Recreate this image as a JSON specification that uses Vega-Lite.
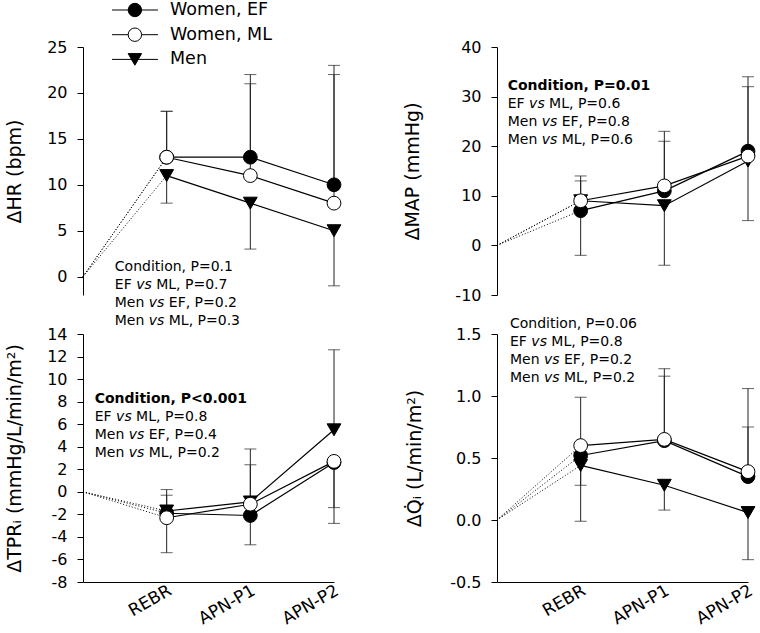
{
  "$schema": "https://vega.github.io/schema/vega-lite/v6.json",
  "autosize": "none",
  "padding": {"left": 83, "top": 47, "right": 677, "bottom": 586},
  "background": "white",
  "datasets": {
    "main": [
      {"panel": "HR", "series": "Women, EF", "x": 0, "mean": 0, "err": null},
      {"panel": "HR", "series": "Women, EF", "x": 1, "mean": 13, "err": 18},
      {"panel": "HR", "series": "Women, EF", "x": 2, "mean": 13, "err": 22},
      {"panel": "HR", "series": "Women, EF", "x": 3, "mean": 10, "err": 23},
      {"panel": "HR", "series": "Women, ML", "x": 0, "mean": 0, "err": null},
      {"panel": "HR", "series": "Women, ML", "x": 1, "mean": 13, "err": 18},
      {"panel": "HR", "series": "Women, ML", "x": 2, "mean": 11, "err": 21},
      {"panel": "HR", "series": "Women, ML", "x": 3, "mean": 8, "err": 22},
      {"panel": "HR", "series": "Men", "x": 0, "mean": 0, "err": null},
      {"panel": "HR", "series": "Men", "x": 1, "mean": 11, "err": 8},
      {"panel": "HR", "series": "Men", "x": 2, "mean": 8, "err": 3},
      {"panel": "HR", "series": "Men", "x": 3, "mean": 5, "err": -1},
      {"panel": "MAP", "series": "Women, EF", "x": 0, "mean": 0, "err": null},
      {"panel": "MAP", "series": "Women, EF", "x": 1, "mean": 7, "err": 13},
      {"panel": "MAP", "series": "Women, EF", "x": 2, "mean": 11, "err": 21},
      {"panel": "MAP", "series": "Women, EF", "x": 3, "mean": 19, "err": 34},
      {"panel": "MAP", "series": "Women, ML", "x": 0, "mean": 0, "err": null},
      {"panel": "MAP", "series": "Women, ML", "x": 1, "mean": 9, "err": 14},
      {"panel": "MAP", "series": "Women, ML", "x": 2, "mean": 12, "err": 23},
      {"panel": "MAP", "series": "Women, ML", "x": 3, "mean": 18, "err": 32},
      {"panel": "MAP", "series": "Men", "x": 0, "mean": 0, "err": null},
      {"panel": "MAP", "series": "Men", "x": 1, "mean": 9, "err": -2},
      {"panel": "MAP", "series": "Men", "x": 2, "mean": 8, "err": -4},
      {"panel": "MAP", "series": "Men", "x": 3, "mean": 17, "err": 5},
      {"panel": "TPR", "series": "Women, EF", "x": 0, "mean": 0, "err": null},
      {"panel": "TPR", "series": "Women, EF", "x": 1, "mean": -1.9, "err": -0.3},
      {"panel": "TPR", "series": "Women, EF", "x": 2, "mean": -2.1, "err": -4.7},
      {"panel": "TPR", "series": "Women, EF", "x": 3, "mean": 2.6, "err": -2.8},
      {"panel": "TPR", "series": "Women, ML", "x": 0, "mean": 0, "err": null},
      {"panel": "TPR", "series": "Women, ML", "x": 1, "mean": -2.3, "err": -5.4},
      {"panel": "TPR", "series": "Women, ML", "x": 2, "mean": -1.1, "err": 2.4},
      {"panel": "TPR", "series": "Women, ML", "x": 3, "mean": 2.7, "err": -1.4},
      {"panel": "TPR", "series": "Men", "x": 0, "mean": 0, "err": null},
      {"panel": "TPR", "series": "Men", "x": 1, "mean": -1.7, "err": 0.2},
      {"panel": "TPR", "series": "Men", "x": 2, "mean": -0.9, "err": 3.8},
      {"panel": "TPR", "series": "Men", "x": 3, "mean": 5.5, "err": 12.6},
      {"panel": "Q", "series": "Women, EF", "x": 0, "mean": 0, "err": null},
      {"panel": "Q", "series": "Women, EF", "x": 1, "mean": 0.52, "err": 0.28},
      {"panel": "Q", "series": "Women, EF", "x": 2, "mean": 0.64, "err": 1.16},
      {"panel": "Q", "series": "Women, EF", "x": 3, "mean": 0.35, "err": 0.75},
      {"panel": "Q", "series": "Women, ML", "x": 0, "mean": 0, "err": null},
      {"panel": "Q", "series": "Women, ML", "x": 1, "mean": 0.6, "err": 0.99},
      {"panel": "Q", "series": "Women, ML", "x": 2, "mean": 0.65, "err": 1.22},
      {"panel": "Q", "series": "Women, ML", "x": 3, "mean": 0.39, "err": 1.06},
      {"panel": "Q", "series": "Men", "x": 0, "mean": 0, "err": null},
      {"panel": "Q", "series": "Men", "x": 1, "mean": 0.44, "err": -0.01},
      {"panel": "Q", "series": "Men", "x": 2, "mean": 0.28, "err": 0.08},
      {"panel": "Q", "series": "Men", "x": 3, "mean": 0.06, "err": -0.32}
    ],
    "notes": [
      {"panel": "HR", "line": 0, "pre": "Condition, P=0.1", "mid": "", "post": ""},
      {"panel": "HR", "line": 1, "pre": "EF", "mid": "vs", "post": "ML, P=0.7"},
      {"panel": "HR", "line": 2, "pre": "Men", "mid": "vs", "post": "EF, P=0.2"},
      {"panel": "HR", "line": 3, "pre": "Men", "mid": "vs", "post": "ML, P=0.3"},
      {"panel": "MAP", "line": 0, "pre": "Condition, P=0.01", "mid": "", "post": ""},
      {"panel": "MAP", "line": 1, "pre": "EF", "mid": "vs", "post": "ML, P=0.6"},
      {"panel": "MAP", "line": 2, "pre": "Men", "mid": "vs", "post": "EF, P=0.8"},
      {"panel": "MAP", "line": 3, "pre": "Men", "mid": "vs", "post": "ML, P=0.6"},
      {"panel": "TPR", "line": 0, "pre": "Condition, P<0.001", "mid": "", "post": ""},
      {"panel": "TPR", "line": 1, "pre": "EF", "mid": "vs", "post": "ML, P=0.8"},
      {"panel": "TPR", "line": 2, "pre": "Men", "mid": "vs", "post": "EF, P=0.4"},
      {"panel": "TPR", "line": 3, "pre": "Men", "mid": "vs", "post": "ML, P=0.2"},
      {"panel": "Q", "line": 0, "pre": "Condition, P=0.06", "mid": "", "post": ""},
      {"panel": "Q", "line": 1, "pre": "EF", "mid": "vs", "post": "ML, P=0.8"},
      {"panel": "Q", "line": 2, "pre": "Men", "mid": "vs", "post": "EF, P=0.2"},
      {"panel": "Q", "line": 3, "pre": "Men", "mid": "vs", "post": "ML, P=0.2"}
    ]
  },
  "columns": 2,
  "spacing": {"row": 39, "column": 163},
  "bounds": "flush",
  "concat": [
    {
      "width": 251, "height": 248,
      "resolve": {"scale": {"y": "independent"}},
      "layer": [
        {
          "data": {"name": "main"},
          "transform": [{"filter": "datum.panel === 'HR'"}],
          "encoding": {
            "x": {"field": "x", "type": "quantitative", "scale": {"domain": [0, 3], "nice": false, "zero": false}, "axis": null},
            "y": {"field": "mean", "type": "quantitative", "scale": {"domain": [-2, 25], "nice": false, "zero": false}, "axis": {"values": [0, 5, 10, 15, 20, 25], "labelExpr": "replace(datum.label, '−', '-')", "title": "ΔHR (bpm)", "titlePadding": 22}}
          },
          "layer": [
            {"transform": [{"filter": "datum.x <= 1"}], "mark": {"type": "line", "color": "black", "strokeWidth": 1, "strokeDash": [1, 2]}, "encoding": {"detail": {"field": "series"}}},
            {"transform": [{"filter": "datum.x >= 1"}], "mark": {"type": "rule", "color": "#222", "strokeWidth": 1}, "encoding": {"y2": {"field": "err"}}},
            {"transform": [{"filter": "datum.x >= 1"}], "mark": {"type": "tick", "orient": "horizontal", "color": "#222", "size": 12, "thickness": 1}, "encoding": {"y": {"field": "err", "type": "quantitative", "scale": {"domain": [-2, 25], "nice": false, "zero": false}, "axis": {"values": [0, 5, 10, 15, 20, 25], "labelExpr": "replace(datum.label, '−', '-')", "title": "ΔHR (bpm)", "titlePadding": 22}}}},
            {"transform": [{"filter": "datum.x >= 1"}], "mark": {"type": "line", "color": "black", "strokeWidth": 1.2}, "encoding": {"detail": {"field": "series"}}},
            {"transform": [{"filter": "datum.x >= 1 && datum.series === 'Women, EF'"}], "mark": {"type": "point", "shape": "circle", "filled": true, "fill": "black", "stroke": "black", "strokeWidth": 1, "size": 190, "opacity": 1}},
            {"transform": [{"filter": "datum.x >= 1 && datum.series === 'Men'"}], "mark": {"type": "point", "shape": "triangle-down", "filled": true, "fill": "black", "stroke": "black", "strokeWidth": 1, "size": 190, "opacity": 1}},
            {"transform": [{"filter": "datum.x >= 1 && datum.series === 'Women, ML'"}], "mark": {"type": "point", "shape": "circle", "filled": true, "fill": "white", "stroke": "black", "strokeWidth": 1, "size": 190, "opacity": 1}}
          ]
        },
        {
          "data": {"name": "main"},
          "transform": [{"filter": "datum.panel === 'HR' && datum.x === 1"}],
          "encoding": {
            "y": {"field": "series", "type": "nominal", "sort": ["Women, EF", "Women, ML", "Men"], "scale": {"type": "point", "domain": ["Women, EF", "Women, ML", "Men"], "range": [-37, 12.4], "padding": 0}, "axis": null}
          },
          "layer": [
            {"mark": {"type": "rule", "color": "black", "strokeWidth": 1}, "encoding": {"x": {"datum": 0.347, "type": "quantitative", "axis": null}, "x2": {"datum": 0.896}}},
            {"mark": {"type": "point", "filled": true, "stroke": "black", "strokeWidth": 1, "size": 180, "opacity": 1},
             "encoding": {
               "x": {"datum": 0.62, "type": "quantitative", "axis": null},
               "shape": {"field": "series", "type": "nominal", "scale": {"domain": ["Women, EF", "Women, ML", "Men"], "range": ["circle", "circle", "triangle-down"]}, "legend": null},
               "fill": {"field": "series", "type": "nominal", "scale": {"domain": ["Women, EF", "Women, ML", "Men"], "range": ["black", "white", "black"]}, "legend": null}
             }},
            {"mark": {"type": "text", "align": "left", "baseline": "middle", "fontSize": 17.5, "color": "black"}, "encoding": {"x": {"datum": 1.04, "type": "quantitative", "axis": null}, "text": {"field": "series"}}}
          ]
        },
        {
          "data": {"name": "notes"},
          "transform": [{"filter": "datum.panel === 'HR'"}],
          "encoding": {
            "x": {"datum": 0.38, "type": "quantitative", "axis": null},
            "y": {"field": "line", "type": "quantitative", "scale": {"domain": [0, 3], "range": [220, 274], "nice": false, "zero": false}, "axis": null}
          },
          "layer": [
            {"mark": {"type": "text", "align": "left", "baseline": "middle", "fontSize": 14, "color": "black"}, "encoding": {"text": {"field": "pre"}}},
            {"transform": [{"filter": "datum.pre === 'EF'"}], "mark": {"type": "text", "align": "left", "baseline": "middle", "fontSize": 14, "fontStyle": "italic", "color": "black", "dx": 21.4}, "encoding": {"text": {"field": "mid"}}},
            {"transform": [{"filter": "datum.pre === 'Men'"}], "mark": {"type": "text", "align": "left", "baseline": "middle", "fontSize": 14, "fontStyle": "italic", "color": "black", "dx": 34}, "encoding": {"text": {"field": "mid"}}},
            {"transform": [{"filter": "datum.pre === 'EF'"}], "mark": {"type": "text", "align": "left", "baseline": "middle", "fontSize": 14, "color": "black", "dx": 41.4}, "encoding": {"text": {"field": "post"}}},
            {"transform": [{"filter": "datum.pre === 'Men'"}], "mark": {"type": "text", "align": "left", "baseline": "middle", "fontSize": 14, "color": "black", "dx": 54}, "encoding": {"text": {"field": "post"}}}
          ]
        }
      ]
    },
    {
      "width": 251, "height": 248,
      "resolve": {"scale": {"y": "independent"}},
      "layer": [
        {
          "data": {"name": "main"},
          "transform": [{"filter": "datum.panel === 'MAP'"}],
          "encoding": {
            "x": {"field": "x", "type": "quantitative", "scale": {"domain": [0, 3], "nice": false, "zero": false}, "axis": null},
            "y": {"field": "mean", "type": "quantitative", "scale": {"domain": [-10, 40], "nice": false, "zero": false}, "axis": {"values": [-10, 0, 10, 20, 30, 40], "labelExpr": "replace(datum.label, '−', '-')", "title": "ΔMAP (mmHg)", "titlePadding": 32}}
          },
          "layer": [
            {"transform": [{"filter": "datum.x <= 1"}], "mark": {"type": "line", "color": "black", "strokeWidth": 1, "strokeDash": [1, 2]}, "encoding": {"detail": {"field": "series"}}},
            {"transform": [{"filter": "datum.x >= 1"}], "mark": {"type": "rule", "color": "#222", "strokeWidth": 1}, "encoding": {"y2": {"field": "err"}}},
            {"transform": [{"filter": "datum.x >= 1"}], "mark": {"type": "tick", "orient": "horizontal", "color": "#222", "size": 12, "thickness": 1}, "encoding": {"y": {"field": "err", "type": "quantitative", "scale": {"domain": [-10, 40], "nice": false, "zero": false}, "axis": {"values": [-10, 0, 10, 20, 30, 40], "labelExpr": "replace(datum.label, '−', '-')", "title": "ΔMAP (mmHg)", "titlePadding": 32}}}},
            {"transform": [{"filter": "datum.x >= 1"}], "mark": {"type": "line", "color": "black", "strokeWidth": 1.2}, "encoding": {"detail": {"field": "series"}}},
            {"transform": [{"filter": "datum.x >= 1 && datum.series === 'Women, EF'"}], "mark": {"type": "point", "shape": "circle", "filled": true, "fill": "black", "stroke": "black", "strokeWidth": 1, "size": 190, "opacity": 1}},
            {"transform": [{"filter": "datum.x >= 1 && datum.series === 'Men'"}], "mark": {"type": "point", "shape": "triangle-down", "filled": true, "fill": "black", "stroke": "black", "strokeWidth": 1, "size": 190, "opacity": 1}},
            {"transform": [{"filter": "datum.x >= 1 && datum.series === 'Women, ML'"}], "mark": {"type": "point", "shape": "circle", "filled": true, "fill": "white", "stroke": "black", "strokeWidth": 1, "size": 190, "opacity": 1}}
          ]
        },
        {
          "data": {"name": "notes"},
          "transform": [{"filter": "datum.panel === 'MAP'"}],
          "encoding": {
            "x": {"datum": 0.128, "type": "quantitative", "axis": null},
            "y": {"field": "line", "type": "quantitative", "scale": {"domain": [0, 3], "range": [39, 93], "nice": false, "zero": false}, "axis": null}
          },
          "layer": [
            {"transform": [{"filter": "datum.line === 0"}], "mark": {"type": "text", "align": "left", "baseline": "middle", "fontSize": 14, "fontWeight": "bold", "color": "black"}, "encoding": {"text": {"field": "pre"}}},
            {"transform": [{"filter": "datum.line > 0"}], "mark": {"type": "text", "align": "left", "baseline": "middle", "fontSize": 14, "color": "black"}, "encoding": {"text": {"field": "pre"}}},
            {"transform": [{"filter": "datum.pre === 'EF'"}], "mark": {"type": "text", "align": "left", "baseline": "middle", "fontSize": 14, "fontStyle": "italic", "color": "black", "dx": 21.4}, "encoding": {"text": {"field": "mid"}}},
            {"transform": [{"filter": "datum.pre === 'Men'"}], "mark": {"type": "text", "align": "left", "baseline": "middle", "fontSize": 14, "fontStyle": "italic", "color": "black", "dx": 34}, "encoding": {"text": {"field": "mid"}}},
            {"transform": [{"filter": "datum.pre === 'EF'"}], "mark": {"type": "text", "align": "left", "baseline": "middle", "fontSize": 14, "color": "black", "dx": 41.4}, "encoding": {"text": {"field": "post"}}},
            {"transform": [{"filter": "datum.pre === 'Men'"}], "mark": {"type": "text", "align": "left", "baseline": "middle", "fontSize": 14, "color": "black", "dx": 54}, "encoding": {"text": {"field": "post"}}}
          ]
        }
      ]
    },
    {
      "width": 251, "height": 248,
      "resolve": {"scale": {"y": "independent"}},
      "layer": [
        {
          "data": {"name": "main"},
          "transform": [{"filter": "datum.panel === 'TPR'"}],
          "encoding": {
            "x": {"field": "x", "type": "quantitative", "scale": {"domain": [0, 3], "nice": false, "zero": false}, "axis": {"values": [1, 2, 3], "labelExpr": "datum.value === 1 ? 'REBR' : datum.value === 2 ? 'APN-P1' : 'APN-P2'", "title": null, "ticks": false, "tickSize": 0, "labelAngle": -30, "labelAlign": "right", "labelBaseline": "top", "labelOffset": -1, "labelPadding": 0, "labelFontSize": 17}},
            "y": {"field": "mean", "type": "quantitative", "scale": {"domain": [-8, 14], "nice": false, "zero": false}, "axis": {"values": [-8, -6, -4, -2, 0, 2, 4, 6, 8, 10, 12, 14], "labelExpr": "replace(datum.label, '−', '-')", "title": "ΔTPRᵢ (mmHg/L/min/m²)", "titlePadding": 22}}
          },
          "layer": [
            {"transform": [{"filter": "datum.x <= 1"}], "mark": {"type": "line", "color": "black", "strokeWidth": 1, "strokeDash": [1, 2]}, "encoding": {"detail": {"field": "series"}}},
            {"transform": [{"filter": "datum.x >= 1"}], "mark": {"type": "rule", "color": "#222", "strokeWidth": 1}, "encoding": {"y2": {"field": "err"}}},
            {"transform": [{"filter": "datum.x >= 1"}], "mark": {"type": "tick", "orient": "horizontal", "color": "#222", "size": 12, "thickness": 1}, "encoding": {"y": {"field": "err", "type": "quantitative", "scale": {"domain": [-8, 14], "nice": false, "zero": false}, "axis": {"values": [-8, -6, -4, -2, 0, 2, 4, 6, 8, 10, 12, 14], "labelExpr": "replace(datum.label, '−', '-')", "title": "ΔTPRᵢ (mmHg/L/min/m²)", "titlePadding": 22}}}},
            {"transform": [{"filter": "datum.x >= 1"}], "mark": {"type": "line", "color": "black", "strokeWidth": 1.2}, "encoding": {"detail": {"field": "series"}}},
            {"transform": [{"filter": "datum.x >= 1 && datum.series === 'Women, EF'"}], "mark": {"type": "point", "shape": "circle", "filled": true, "fill": "black", "stroke": "black", "strokeWidth": 1, "size": 190, "opacity": 1}},
            {"transform": [{"filter": "datum.x >= 1 && datum.series === 'Men'"}], "mark": {"type": "point", "shape": "triangle-down", "filled": true, "fill": "black", "stroke": "black", "strokeWidth": 1, "size": 190, "opacity": 1}},
            {"transform": [{"filter": "datum.x >= 1 && datum.series === 'Women, ML'"}], "mark": {"type": "point", "shape": "circle", "filled": true, "fill": "white", "stroke": "black", "strokeWidth": 1, "size": 190, "opacity": 1}}
          ]
        },
        {
          "data": {"name": "notes"},
          "transform": [{"filter": "datum.panel === 'TPR'"}],
          "encoding": {
            "x": {"datum": 0.14, "type": "quantitative"},
            "y": {"field": "line", "type": "quantitative", "scale": {"domain": [0, 3], "range": [65, 119], "nice": false, "zero": false}, "axis": null}
          },
          "layer": [
            {"transform": [{"filter": "datum.line === 0"}], "mark": {"type": "text", "align": "left", "baseline": "middle", "fontSize": 14, "fontWeight": "bold", "color": "black"}, "encoding": {"text": {"field": "pre"}}},
            {"transform": [{"filter": "datum.line > 0"}], "mark": {"type": "text", "align": "left", "baseline": "middle", "fontSize": 14, "color": "black"}, "encoding": {"text": {"field": "pre"}}},
            {"transform": [{"filter": "datum.pre === 'EF'"}], "mark": {"type": "text", "align": "left", "baseline": "middle", "fontSize": 14, "fontStyle": "italic", "color": "black", "dx": 21.4}, "encoding": {"text": {"field": "mid"}}},
            {"transform": [{"filter": "datum.pre === 'Men'"}], "mark": {"type": "text", "align": "left", "baseline": "middle", "fontSize": 14, "fontStyle": "italic", "color": "black", "dx": 34}, "encoding": {"text": {"field": "mid"}}},
            {"transform": [{"filter": "datum.pre === 'EF'"}], "mark": {"type": "text", "align": "left", "baseline": "middle", "fontSize": 14, "color": "black", "dx": 41.4}, "encoding": {"text": {"field": "post"}}},
            {"transform": [{"filter": "datum.pre === 'Men'"}], "mark": {"type": "text", "align": "left", "baseline": "middle", "fontSize": 14, "color": "black", "dx": 54}, "encoding": {"text": {"field": "post"}}}
          ]
        }
      ]
    },
    {
      "width": 251, "height": 248,
      "resolve": {"scale": {"y": "independent"}},
      "layer": [
        {
          "data": {"name": "main"},
          "transform": [{"filter": "datum.panel === 'Q'"}],
          "encoding": {
            "x": {"field": "x", "type": "quantitative", "scale": {"domain": [0, 3], "nice": false, "zero": false}, "axis": {"values": [1, 2, 3], "labelExpr": "datum.value === 1 ? 'REBR' : datum.value === 2 ? 'APN-P1' : 'APN-P2'", "title": null, "ticks": false, "tickSize": 0, "labelAngle": -30, "labelAlign": "right", "labelBaseline": "top", "labelOffset": -1, "labelPadding": 0, "labelFontSize": 17}},
            "y": {"field": "mean", "type": "quantitative", "scale": {"domain": [-0.5, 1.5], "nice": false, "zero": false}, "axis": {"values": [-0.5, 0, 0.5, 1, 1.5], "format": ".1f", "labelExpr": "replace(datum.label, '−', '-')", "title": "ΔQ̇ᵢ (L/min/m²)", "titlePadding": 25}}
          },
          "layer": [
            {"transform": [{"filter": "datum.x <= 1"}], "mark": {"type": "line", "color": "black", "strokeWidth": 1, "strokeDash": [1, 2]}, "encoding": {"detail": {"field": "series"}}},
            {"transform": [{"filter": "datum.x >= 1"}], "mark": {"type": "rule", "color": "#222", "strokeWidth": 1}, "encoding": {"y2": {"field": "err"}}},
            {"transform": [{"filter": "datum.x >= 1"}], "mark": {"type": "tick", "orient": "horizontal", "color": "#222", "size": 12, "thickness": 1}, "encoding": {"y": {"field": "err", "type": "quantitative", "scale": {"domain": [-0.5, 1.5], "nice": false, "zero": false}, "axis": {"values": [-0.5, 0, 0.5, 1, 1.5], "format": ".1f", "labelExpr": "replace(datum.label, '−', '-')", "title": "ΔQ̇ᵢ (L/min/m²)", "titlePadding": 25}}}},
            {"transform": [{"filter": "datum.x >= 1"}], "mark": {"type": "line", "color": "black", "strokeWidth": 1.2}, "encoding": {"detail": {"field": "series"}}},
            {"transform": [{"filter": "datum.x >= 1 && datum.series === 'Women, EF'"}], "mark": {"type": "point", "shape": "circle", "filled": true, "fill": "black", "stroke": "black", "strokeWidth": 1, "size": 190, "opacity": 1}},
            {"transform": [{"filter": "datum.x >= 1 && datum.series === 'Men'"}], "mark": {"type": "point", "shape": "triangle-down", "filled": true, "fill": "black", "stroke": "black", "strokeWidth": 1, "size": 190, "opacity": 1}},
            {"transform": [{"filter": "datum.x >= 1 && datum.series === 'Women, ML'"}], "mark": {"type": "point", "shape": "circle", "filled": true, "fill": "white", "stroke": "black", "strokeWidth": 1, "size": 190, "opacity": 1}}
          ]
        },
        {
          "data": {"name": "notes"},
          "transform": [{"filter": "datum.panel === 'Q'"}],
          "encoding": {
            "x": {"datum": 0.155, "type": "quantitative"},
            "y": {"field": "line", "type": "quantitative", "scale": {"domain": [0, 3], "range": [-10, 44], "nice": false, "zero": false}, "axis": null}
          },
          "layer": [
            {"mark": {"type": "text", "align": "left", "baseline": "middle", "fontSize": 14, "color": "black"}, "encoding": {"text": {"field": "pre"}}},
            {"transform": [{"filter": "datum.pre === 'EF'"}], "mark": {"type": "text", "align": "left", "baseline": "middle", "fontSize": 14, "fontStyle": "italic", "color": "black", "dx": 21.4}, "encoding": {"text": {"field": "mid"}}},
            {"transform": [{"filter": "datum.pre === 'Men'"}], "mark": {"type": "text", "align": "left", "baseline": "middle", "fontSize": 14, "fontStyle": "italic", "color": "black", "dx": 34}, "encoding": {"text": {"field": "mid"}}},
            {"transform": [{"filter": "datum.pre === 'EF'"}], "mark": {"type": "text", "align": "left", "baseline": "middle", "fontSize": 14, "color": "black", "dx": 41.4}, "encoding": {"text": {"field": "post"}}},
            {"transform": [{"filter": "datum.pre === 'Men'"}], "mark": {"type": "text", "align": "left", "baseline": "middle", "fontSize": 14, "color": "black", "dx": 54}, "encoding": {"text": {"field": "post"}}}
          ]
        }
      ]
    }
  ],
  "config": {
    "view": {"stroke": null},
    "font": "DejaVu Sans",
    "text": {"font": "DejaVu Sans"},
    "axis": {"domainColor": "black", "domainWidth": 1, "tickColor": "black", "tickWidth": 1, "tickSize": 6, "labelColor": "black", "labelFont": "DejaVu Sans", "labelFontSize": 16, "labelPadding": 10, "titleColor": "black", "titleFont": "DejaVu Sans", "titleFontSize": 19, "titleFontWeight": "normal", "grid": false}
  }
}
